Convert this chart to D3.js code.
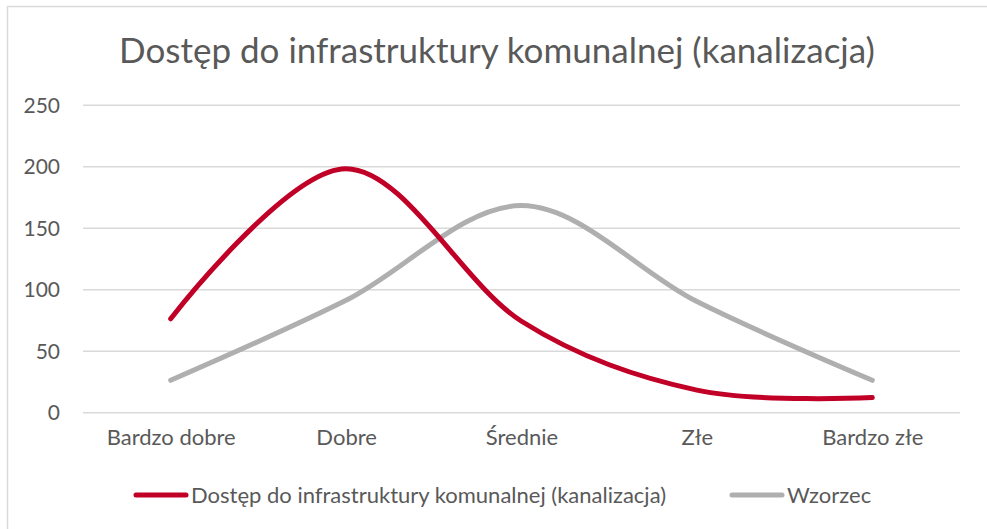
<!DOCTYPE html>
<html>
<head>
<meta charset="utf-8">
<script src="https://cdn.jsdelivr.net/npm/d3@7"></script>
<style>
  body { margin: 0; background: #fff; }
  text { font-family: Lato, "Open Sans", sans-serif; fill: #595959; }
</style>
</head>
<body>
<div id="chart"></div>
<script>
const categories = ['Bardzo dobre', 'Dobre', 'Średnie', 'Złe', 'Bardzo złe'];
const kanalizacja = [76, 198, 74, 18, 12];
const wzorzec = [26, 91, 168, 90, 26];
const yTicks = [0, 50, 100, 150, 200, 250];
const seriesNames = ['Dostęp do infrastruktury komunalnej (kanalizacja)', 'Wzorzec'];

const width = 987;
const height = 529;
const plot = {left: 83, right: 960, top: 104.7, bottom: 412.3};

const svg = d3.select('#chart')
    .append('svg')
    .attr('width', width)
    .attr('height', height);

// chart area frame
svg.append('rect')
    .attr('x', 7.5).attr('y', 6.5)
    .attr('width', width + 10).attr('height', height + 10)
    .style('fill', '#fff')
    .style('stroke', '#d9d9d9')
    .style('stroke-width', 1.5);

svg.append('text')
    .attr('x', 497)
    .attr('y', 63)
    .style('text-anchor', 'middle')
    .style('font-size', '35px')
    .text('Dostęp do infrastruktury komunalnej (kanalizacja)');

let x = d3.scalePoint()
    .domain(categories)
    .range([plot.left, plot.right])
    .padding(0.5);

let y = d3.scaleLinear()
    .domain([0, 250])
    .range([plot.bottom, plot.top]);

let grid = svg.append('g')
    .call(d3.axisLeft(y).tickValues(yTicks).tickSize(-(plot.right - plot.left)).tickFormat(''))
    .attr('transform', `translate(${plot.left}, 0)`);
grid.select('.domain').remove();
grid.selectAll('line').style('stroke', '#d9d9d9').style('stroke-width', 1.5);

let yLabels = svg.append('g')
    .attr('transform', 'translate(60, 0)')
    .call(d3.axisLeft(y).tickValues(yTicks).tickSize(0).tickPadding(0));
yLabels.select('.domain').remove();
yLabels.selectAll('text').style('font-size', '21px').style('fill', '#595959').attr('dy', '0.35em');

let xLabels = svg.append('g')
    .attr('transform', 'translate(0, 428)')
    .call(d3.axisBottom(x).tickSize(0).tickPadding(0));
xLabels.select('.domain').remove();
xLabels.selectAll('text').style('font-size', '22px').style('fill', '#595959').attr('dy', '0.75em');

const line = d3.line()
    .x((d, i) => x(categories[i]))
    .y(d => y(d))
    .curve(d3.curveCatmullRom.alpha(0));

svg.append('path')
    .datum(wzorzec)
    .attr('d', line)
    .style('fill', 'none')
    .style('stroke', '#afafaf')
    .style('stroke-width', 5)
    .style('stroke-linecap', 'round');

svg.append('path')
    .datum(kanalizacja)
    .attr('d', line)
    .style('fill', 'none')
    .style('stroke', '#c00027')
    .style('stroke-width', 5)
    .style('stroke-linecap', 'round');

// legend
const legendItems = [
    {name: seriesNames[0], color: '#c00027', x: 134},
    {name: seriesNames[1], color: '#afafaf', x: 730}
];
let legend = svg.append('g').attr('transform', 'translate(0, 495)');
legendItems.forEach(function(item) {
    legend.append('line')
        .attr('x1', item.x + 2).attr('x2', item.x + 52)
        .style('stroke', item.color)
        .style('stroke-width', 5)
        .style('stroke-linecap', 'round');
    legend.append('text')
        .attr('x', item.x + 57)
        .attr('y', 8)
        .style('font-size', '22px')
        .text(item.name);
});
</script>
</body>
</html>
